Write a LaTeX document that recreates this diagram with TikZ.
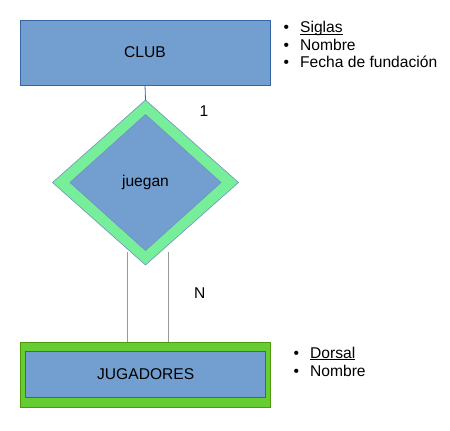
\documentclass[tikz,border=0pt]{standalone}
\usepackage{fontspec}
\setmainfont{Liberation Sans}
\usetikzlibrary{shapes.geometric}
\definecolor{eblue}{HTML}{729FCF}
\definecolor{eborder}{HTML}{3465A4}
\definecolor{dgreen}{HTML}{77EE99}
\definecolor{rgreen}{HTML}{66CC33}
\definecolor{rgborder}{HTML}{4E9A06}
\definecolor{lgray}{HTML}{999999}
\newcommand\myul[1]{\setbox0\hbox{#1}\rlap{\rule[-1.6pt]{\wd0}{0.9pt}}\box0}
\tikzset{
  txt/.style={font=\fontsize{15.6pt}{17pt}\selectfont, text=black, inner sep=0pt},
  entity/.style={draw=eborder, fill=eblue, line width=0.8pt, inner sep=0pt, outer sep=0pt},
  outerrect/.style={draw=rgborder, fill=rgreen, line width=0.8pt, inner sep=0pt, outer sep=0pt},
  outerdia/.style={diamond, draw=eborder!70, fill=dgreen, line width=0.6pt, inner sep=0pt, outer sep=0pt},
  innerdia/.style={diamond, draw=eborder!70, fill=eblue, line width=0.6pt, inner sep=0pt, outer sep=0pt},
  attr/.style={txt, anchor=base west},
  link/.style={draw=eborder, line width=0.8pt},
  glink/.style={draw=lgray, line width=0.8pt},
}
\begin{document}
\begin{tikzpicture}[x=1pt,y=-1pt]
\useasboundingbox (0,0) rectangle (450,431);
% CLUB
\node[entity, minimum width=250pt, minimum height=65pt, txt] (club) at (145,52.5) {CLUB};
% juegan
\node[outerdia, minimum width=186pt, minimum height=165pt] (dout) at (145.5,182.5) {};
\node[innerdia, minimum width=151pt, minimum height=136pt, txt] (din) at (dout.center) {juegan};
% JUGADORES
\node[outerrect, minimum width=250.5pt, minimum height=65pt] (jout) at (145.3,374.8) {};
\node[entity, minimum width=240pt, minimum height=45.7pt, txt] (jug) at (145.7,374.2) {JUGADORES};
% connectors
\draw[link] (club.south) -- (dout.north);
\coordinate (l1) at (127.5,252.3);
\coordinate (l2) at (168,252.3);
\draw[glink] (l1) -- (l1 |- jout.north);
\draw[glink] (l2) -- (l2 |- jout.north);
% cardinalities
\node[txt] (one) at (204,111.5) {1};
\node[txt] (n) at (199.7,293.5) {N};
% attributes
\node[attr] (a1) at (300,32.8) {\llap{\textbullet\hspace{11pt}}\myul{Siglas}};
\node[attr] (a2) at (300,50.0) {\llap{\textbullet\hspace{11pt}}Nombre};
\node[attr] (a3) at (300,67.2) {\llap{\textbullet\hspace{11pt}}Fecha de fundación};
\node[attr] (b1) at (310,358.4) {\llap{\textbullet\hspace{11pt}}\myul{Dorsal}};
\node[attr] (b2) at (310,376.8) {\llap{\textbullet\hspace{11pt}}Nombre};
\end{tikzpicture}
\end{document}
